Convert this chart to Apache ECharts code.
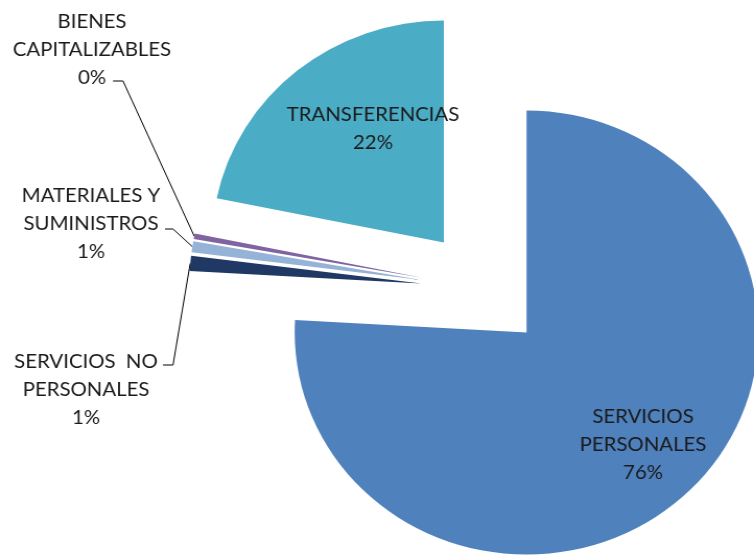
<!DOCTYPE html>
<html><head><meta charset="utf-8">
<script src="https://cdn.jsdelivr.net/npm/echarts@6/dist/echarts.min.js"></script>
<style>
html,body{margin:0;padding:0;background:#fff;overflow:hidden}
#c{width:722px;height:557px;transform-origin:0 0;transform:scaleX(1.04432)}
</style>
</head><body><div id="c"></div>
<script>
const categories = ['SERVICIOS\nPERSONALES', 'SERVICIOS  NO\nPERSONALES', 'MATERIALES Y\nSUMINISTROS', 'BIENES\nCAPITALIZABLES', 'TRANSFERENCIAS'];
const values = [75.9, 1.1, 0.8, 0.4, 21.8];
const colors = ['#4F81BD', '#1F3864', '#95B3D7', '#8064A2', '#4BACC6'];

// ---- layout / style only ----
const S = 754 / 722;                 // horizontal stretch of the original picture
const X = v => v / S;                // screen x -> chart x
const CX = X(483.5), CY = 289, R = 222, OFF = 60;
const labelPos = [
  {x: X(643), y: 445},
  {x: X(86), y: 390, stub: [X(163), X(173), 365]},
  {x: X(91), y: 224, stub: [X(165), X(173), 229]},
  {x: X(92), y: 50, stub: [X(113), X(123), 81]},
  {x: X(373), y: 128.5}
];
const NONE = 'rgba(0,0,0,0)';
const total = values.reduce((a, b) => a + b, 0);
function midAngle(i) {
  let s = 0;
  for (let k = 0; k < i; k++) s += values[k];
  return (s + values[i] / 2) / total * Math.PI * 2;
}

const chart = echarts.init(document.getElementById('c'), null, {renderer: 'canvas'});
chart.setOption({
  animation: false,
  backgroundColor: '#fff',
  series: [
    {
      // exploded slices
      type: 'pie', center: [CX, CY], radius: R, startAngle: 90, clockwise: true,
      selectedMode: 'multiple', selectedOffset: OFF, silent: true,
      emphasis: {disabled: true}, label: {show: false}, labelLine: {show: false},
      itemStyle: {borderWidth: 0},
      data: categories.map((n, i) => ({
        name: n, value: values[i], selected: true, itemStyle: {color: colors[i]}
      }))
    },
    {
      // label layer
      type: 'pie', center: [CX, CY], radius: R, startAngle: 90, clockwise: true,
      silent: true, avoidLabelOverlap: false, emphasis: {disabled: true},
      itemStyle: {color: NONE, borderWidth: 0},
      label: {
        fontFamily: 'Lato', fontSize: 19.5, color: '#1a1a1a', lineHeight: 28, align: 'center',
        formatter: p => p.name + '\n' + Math.round(p.percent) + '%'
      },
      labelLine: {show: true, lineStyle: {color: '#000', width: 1}},
      labelLayout: function (p) {
        const i = p.dataIndex;
        const L = labelPos[i];
        const res = {x: L.x, y: L.y, align: 'center', verticalAlign: 'middle'};
        if (L.stub) {
          const a = midAngle(i);
          const sx = CX + (OFF + R) * Math.sin(a), sy = CY - (OFF + R) * Math.cos(a);
          res.labelLinePoints = [[sx, sy], [L.stub[1], L.stub[2]], [L.stub[0], L.stub[2]]];
        }
        return res;
      },
      data: categories.map((n, i) => ({
        name: n, value: values[i],
        label: {position: labelPos[i].stub ? 'outside' : 'inside'},
        labelLine: {show: !!labelPos[i].stub}
      }))
    }
  ]
});
</script>
</body></html>
